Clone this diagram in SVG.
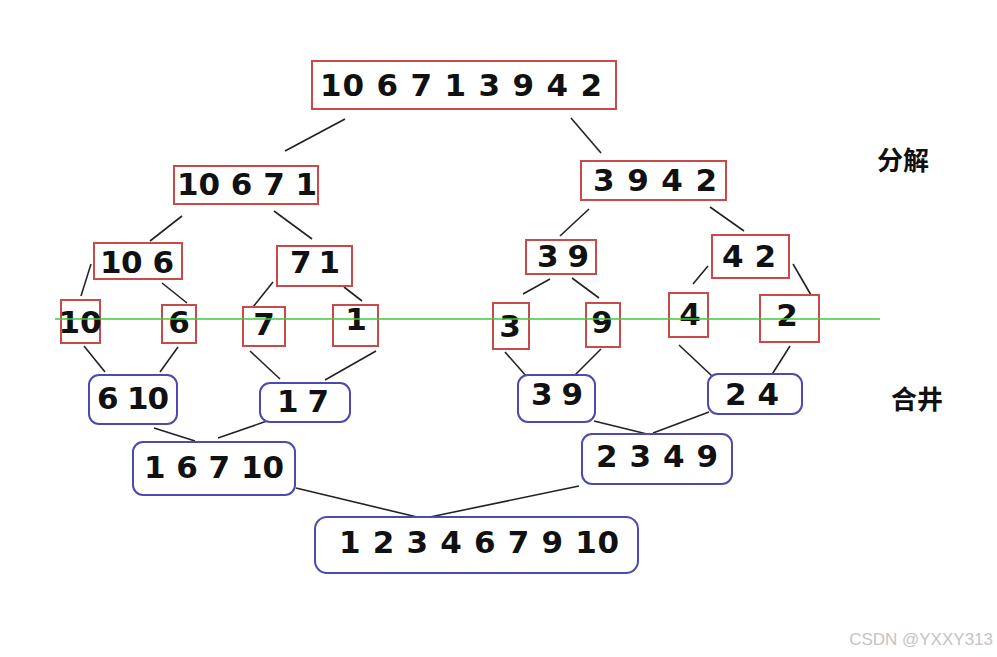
<svg xmlns="http://www.w3.org/2000/svg" width="997" height="657" viewBox="0 0 997 657">
<style>
.r{fill:#ffffff;stroke:#c94a4a;stroke-width:2}
.b{fill:#ffffff;stroke:#4a4ab0;stroke-width:2}
.t{font-family:"DejaVu Sans",sans-serif;font-weight:bold;font-size:31px;fill:#111;text-anchor:middle}
.c{font-family:"Noto Sans CJK SC","Noto Sans CJK JP",sans-serif;font-weight:bold;font-size:26px;fill:#111;text-anchor:middle}
.e{stroke:#222;stroke-width:1.6;fill:none}
</style>
<rect width="997" height="657" fill="#ffffff"/>
<g id="connectors">
<line class="e" x1="345" y1="119" x2="285" y2="151"/>
<line class="e" x1="571" y1="118" x2="601" y2="153"/>
<line class="e" x1="182" y1="216" x2="150" y2="241"/>
<line class="e" x1="274" y1="211" x2="312" y2="239"/>
<line class="e" x1="91" y1="264" x2="81" y2="296"/>
<line class="e" x1="162" y1="283" x2="187" y2="303"/>
<line class="e" x1="273" y1="282" x2="253" y2="307"/>
<line class="e" x1="344" y1="287" x2="362" y2="301"/>
<line class="e" x1="589" y1="209" x2="560" y2="236"/>
<line class="e" x1="710" y1="207" x2="744" y2="231"/>
<line class="e" x1="550" y1="279" x2="523" y2="294"/>
<line class="e" x1="572" y1="278" x2="599" y2="298"/>
<line class="e" x1="708" y1="266" x2="693" y2="284"/>
<line class="e" x1="793" y1="264" x2="811" y2="295"/>
<line class="e" x1="84" y1="346" x2="105" y2="372"/>
<line class="e" x1="178" y1="347" x2="160" y2="372"/>
<line class="e" x1="250" y1="351" x2="280" y2="379"/>
<line class="e" x1="376" y1="351" x2="325" y2="380"/>
<line class="e" x1="505" y1="352" x2="527" y2="377"/>
<line class="e" x1="601" y1="349" x2="574" y2="376"/>
<line class="e" x1="679" y1="345" x2="712" y2="376"/>
<line class="e" x1="790" y1="346" x2="771" y2="376"/>
<line class="e" x1="154" y1="428" x2="195" y2="441"/>
<line class="e" x1="267" y1="421" x2="218" y2="438"/>
<line class="e" x1="594" y1="421" x2="647" y2="434"/>
<line class="e" x1="709" y1="412" x2="653" y2="433"/>
<line class="e" x1="296" y1="488" x2="417" y2="517"/>
<line class="e" x1="579" y1="486" x2="430" y2="517"/>
</g>
<g id="n0"><rect class="r" x="312" y="61" width="304" height="48"/><text class="t" x="461" y="96" textLength="282">10 6 7 1 3 9 4 2</text></g>
<g id="n1"><rect class="r" x="174" y="166" width="144" height="38"/><text class="t" x="247" y="195" textLength="140">10 6 7 1</text></g>
<g id="n2"><rect class="r" x="581" y="161" width="145" height="39"/><text class="t" x="655" y="191" textLength="124">3 9 4 2</text></g>
<g id="n3"><rect class="r" x="94" y="243" width="88" height="36"/><text class="t" x="137" y="273" textLength="74">10 6</text></g>
<g id="n4"><rect class="r" x="277" y="246" width="75" height="40"/><text class="t" x="315" y="273" textLength="50">7 1</text></g>
<g id="n5"><rect class="r" x="526" y="240" width="70" height="34"/><text class="t" x="563" y="267" textLength="52">3 9</text></g>
<g id="n6"><rect class="r" x="712" y="235" width="77" height="43"/><text class="t" x="749" y="267" textLength="54">4 2</text></g>
<g id="n7"><rect class="r" x="61" y="300" width="39" height="43"/><text class="t" x="80" y="333">10</text></g>
<g id="n8"><rect class="r" x="162" y="305" width="34" height="38"/><text class="t" x="179" y="333">6</text></g>
<g id="n9"><rect class="r" x="243" y="307" width="42" height="39"/><text class="t" x="264" y="335">7</text></g>
<g id="n10"><rect class="r" x="333" y="305" width="45" height="41"/><text class="t" x="356" y="330">1</text></g>
<g id="n11"><rect class="r" x="493" y="303" width="36" height="46"/><text class="t" x="510" y="337">3</text></g>
<g id="n12"><rect class="r" x="586" y="303" width="34" height="44"/><text class="t" x="602" y="333">9</text></g>
<g id="n13"><rect class="r" x="669" y="293" width="39" height="44"/><text class="t" x="690" y="325">4</text></g>
<g id="n14"><rect class="r" x="760" y="295" width="59" height="47"/><text class="t" x="787" y="326">2</text></g>
<g id="n15"><rect class="b" x="89" y="375" width="88" height="49" rx="10"/><text class="t" x="133" y="409" textLength="72">6 10</text></g>
<g id="n16"><rect class="b" x="260" y="383" width="90" height="39" rx="10"/><text class="t" x="303" y="412" textLength="52">1 7</text></g>
<g id="n17"><rect class="b" x="518" y="375" width="77" height="47" rx="10"/><text class="t" x="557" y="405" textLength="52">3 9</text></g>
<g id="n18"><rect class="b" x="708" y="374" width="94" height="40" rx="10"/><text class="t" x="752" y="405" textLength="54">2 4</text></g>
<g id="n19"><rect class="b" x="133" y="442" width="162" height="53" rx="10"/><text class="t" x="214" y="478" textLength="140">1 6 7 10</text></g>
<g id="n20"><rect class="b" x="582" y="434" width="150" height="50" rx="10"/><text class="t" x="657" y="467" textLength="122">2 3 4 9</text></g>
<g id="n21"><rect class="b" x="315" y="517" width="323" height="56" rx="12"/><text class="t" x="479" y="553" textLength="280">1 2 3 4 6 7 9 10</text></g>
<g id="divider">
<line x1="55" y1="319" x2="880" y2="319" stroke="#3ccc3c" stroke-width="1.6"/>
</g>
<g id="labels">
<text class="c" x="903" y="170">分解</text>
<text class="c" x="917" y="409">合井</text>
<text x="993" y="645" font-family="Liberation Sans,sans-serif" font-size="17" fill="#c4c4c4" text-anchor="end">CSDN @YXXY313</text>
</g>
</svg>
